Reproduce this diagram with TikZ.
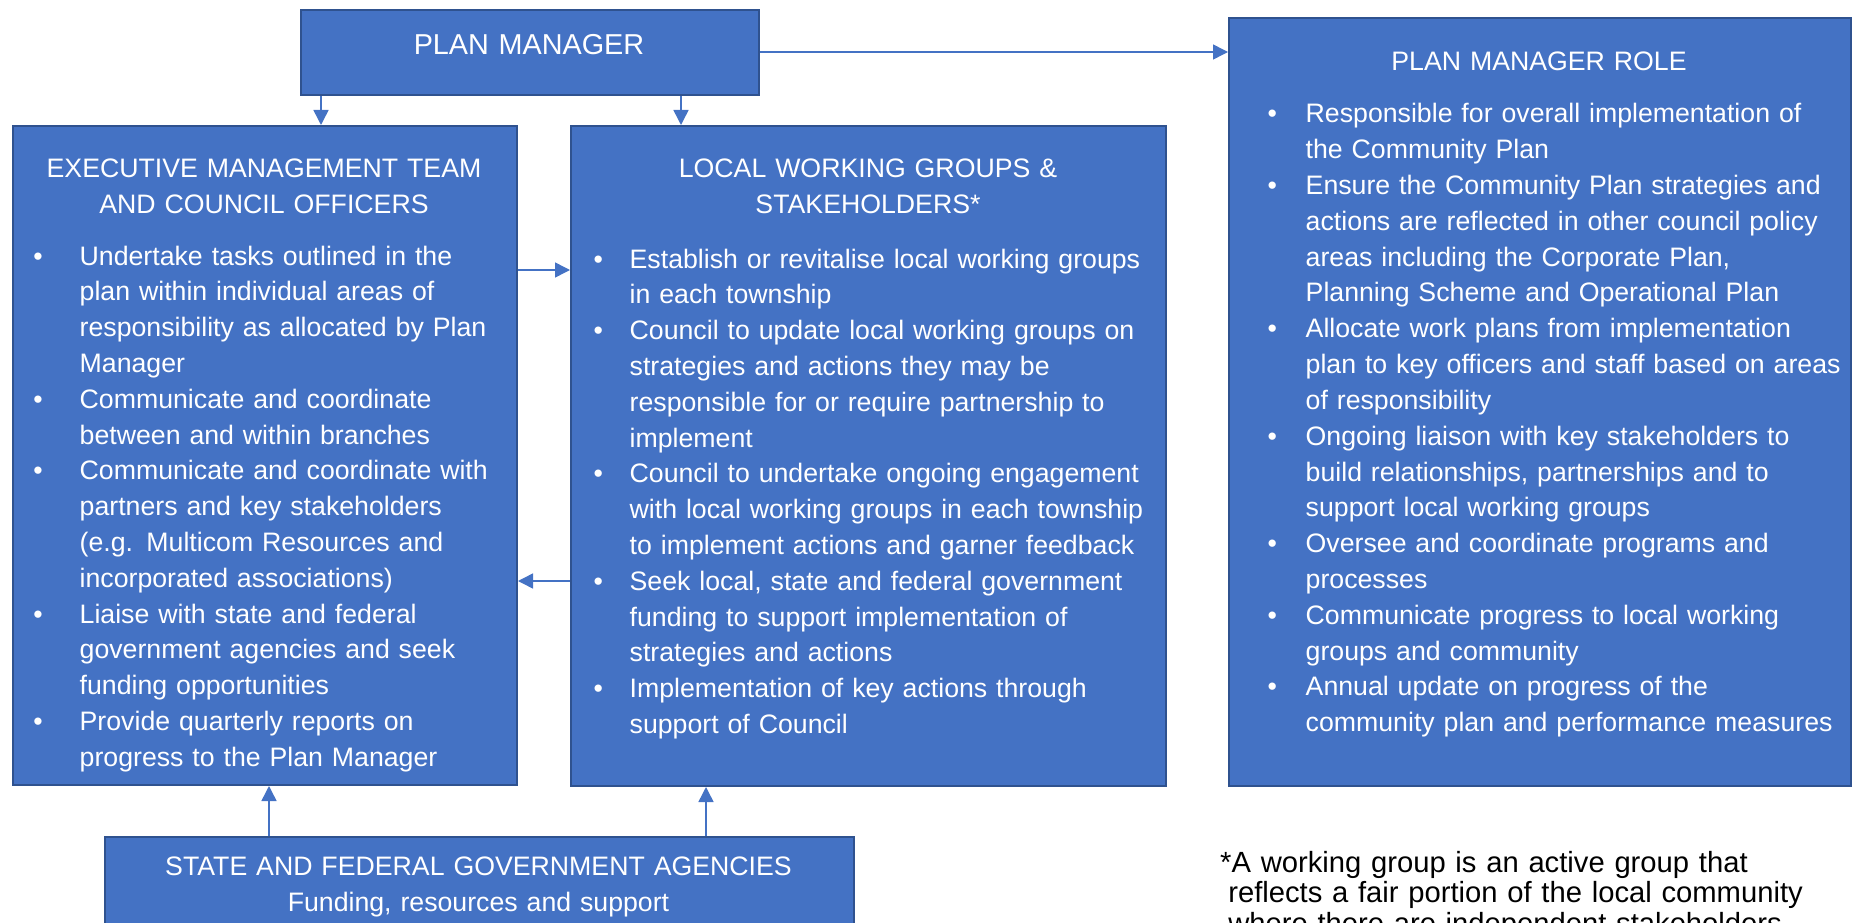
\documentclass[tikz,border=0pt]{standalone}
\usepackage{fontspec}
\setmainfont{Liberation Sans}
\usetikzlibrary{arrows.meta}
\definecolor{boxfill}{HTML}{4472C4}
\definecolor{boxline}{HTML}{2F528F}
\definecolor{arrowc}{HTML}{4472C4}
\newcommand\bul[1]{\leavevmode\llap{\textbullet\hspace{#1}}}
\begin{document}
\begin{tikzpicture}[x=1pt,y=-1pt,
  box/.style={draw=boxline, fill=boxfill, line width=2pt, rectangle, inner sep=0pt, anchor=north west},
  body/.style={text=white, font={\fontsize{26.7}{35.8}\selectfont}, inner sep=0pt, text width=700pt, align=left, anchor=base west},
  head/.style={text=white, font={\fontsize{26.7}{35.8}\selectfont}, inner sep=0pt, text width=900pt, align=center, anchor=base},
  arr/.style={draw=arrowc, line width=1.5pt, -{Triangle[length=15pt,width=15pt]}},
]
\useasboundingbox (0,0) rectangle (1852,923);
\clip (0,0) rectangle (1852,923);

% boxes
\node[box, minimum width=458pt, minimum height=85pt] (pm) at (300,9.5) {};
\node[box, minimum width=504pt, minimum height=659pt] (exec) at (12,125) {};
\node[box, minimum width=595pt, minimum height=660pt] (lwg) at (570,125) {};
\node[box, minimum width=622pt, minimum height=768pt] (pmr) at (1228,17) {};
\node[box, minimum width=749pt, minimum height=130pt] (state) at (104,836) {};

% texts
\node[head, font={\fontsize{28.8}{34}\selectfont}] (pmtxt) at (529,55) {PLAN MANAGER};

\node[head] (exech) at (264,177.6) {EXECUTIVE MANAGEMENT TEAM\\AND COUNCIL OFFICERS};
\node[body] (execb) at (79.5,265) {%
\bul{37pt}Undertake tasks outlined in the\\
plan within individual areas of\\
responsibility as allocated by Plan\\
Manager\\
\bul{37pt}Communicate and coordinate\\
between and within branches\\
\bul{37pt}Communicate and coordinate with\\
partners and key stakeholders\\
(e.g. Multicom Resources and\\
incorporated associations)\\
\bul{37pt}Liaise with state and federal\\
government agencies and seek\\
funding opportunities\\
\bul{37pt}Provide quarterly reports on\\
progress to the Plan Manager};

\node[head] (lwgh) at (868,177.6) {LOCAL WORKING GROUPS \&\\STAKEHOLDERS*};
\node[body] (lwgb) at (629.5,268) {%
\bul{26.8pt}Establish or revitalise local working groups\\
in each township\\
\bul{26.8pt}Council to update local working groups on\\
strategies and actions they may be\\
responsible for or require partnership to\\
implement\\
\bul{26.8pt}Council to undertake ongoing engagement\\
with local working groups in each township\\
to implement actions and garner feedback\\
\bul{26.8pt}Seek local, state and federal government\\
funding to support implementation of\\
strategies and actions\\
\bul{26.8pt}Implementation of key actions through\\
support of Council};

\node[head] (pmrh) at (1539,71) {PLAN MANAGER ROLE};
\node[body] (pmrb) at (1305.5,123) {%
\bul{28.8pt}Responsible for overall implementation of\\
the Community Plan\\
\bul{28.8pt}Ensure the Community Plan strategies and\\
actions are reflected in other council policy\\
areas including the Corporate Plan,\\
Planning Scheme and Operational Plan\\
\bul{28.8pt}Allocate work plans from implementation\\
plan to key officers and staff based on areas\\
of responsibility\\
\bul{28.8pt}Ongoing liaison with key stakeholders to\\
build relationships, partnerships and to\\
support local working groups\\
\bul{28.8pt}Oversee and coordinate programs and\\
processes\\
\bul{28.8pt}Communicate progress to local working\\
groups and community\\
\bul{28.8pt}Annual update on progress of the\\
community plan and performance measures};

\node[head] (stateh) at (478.5,875.6) {STATE AND FEDERAL GOVERNMENT AGENCIES\\Funding, resources and support};

\node[body, text=black, font={\fontsize{29.2}{30.5}\selectfont}, text width=640pt] (note) at (1220,872) {%
*A working group is an active group that\\
\hspace*{8.1pt}reflects a fair portion of the local community\\
\hspace*{8.1pt}where there are independent stakeholders};

% connectors
\coordinate (x1) at (321,0);
\coordinate (x2) at (681,0);
\coordinate (y1) at (0,52);
\coordinate (y2) at (0,270);
\coordinate (y3) at (0,581);
\coordinate (x3) at (269,0);
\coordinate (x4) at (706,0);
\draw[arr] (pm.south -| x1) -- (exec.north -| x1);
\draw[arr] (pm.south -| x2) -- (lwg.north -| x2);
\draw[arr] (pm.east |- y1) -- (pmr.west |- y1);
\draw[arr] (exec.east |- y2) -- (lwg.west |- y2);
\draw[arr] (lwg.west |- y3) -- (exec.east |- y3);
\draw[arr] (state.north -| x3) -- (exec.south -| x3);
\draw[arr] (state.north -| x4) -- (lwg.south -| x4);
\end{tikzpicture}
\end{document}
